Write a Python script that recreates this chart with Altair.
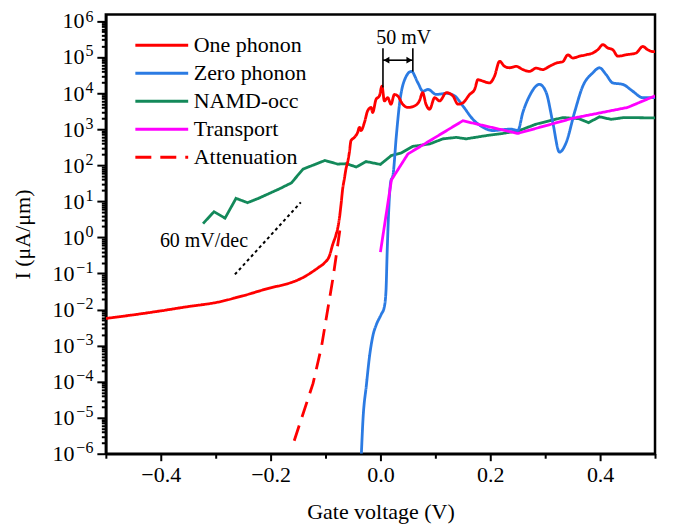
import altair as alt
import pandas as pd

FONT = "Liberation Serif"

# ---- data (gate voltage in V, current as log10 of uA/um) ----
one_x = [-0.5, -0.45, -0.4, -0.35, -0.3, -0.25, -0.2, -0.17, -0.147, -0.114, -0.102, -0.093,
         -0.0869, -0.0809, -0.0778, -0.0747, -0.0718, -0.0687, -0.0656, -0.0627, -0.0596, -0.0565,
         -0.0536, -0.0474, -0.0414, -0.0383, -0.0354, -0.0292, -0.0232, -0.0172, -0.0141, -0.0081,
         -0.0019, 0.0028, 0.0072, 0.0132, 0.0192, 0.0254, 0.0314, 0.0405, 0.0496, 0.0618, 0.0709,
         0.0769, 0.0829, 0.0896, 0.0987, 0.1078, 0.12, 0.132, 0.1411, 0.1502, 0.1624, 0.1715,
         0.1775, 0.1866, 0.1988, 0.2078, 0.2169, 0.226, 0.2351, 0.2473, 0.2593, 0.2715, 0.2837,
         0.2957, 0.3078, 0.3201, 0.3321, 0.3412, 0.3503, 0.3625, 0.3747, 0.3867, 0.3958, 0.4049,
         0.414, 0.4231, 0.4322, 0.4474, 0.4656, 0.4777, 0.4867, 0.4958, 0.5]
one_logI = [-2.25, -2.15, -2.04, -1.92, -1.81, -1.62, -1.40, -1.29, -1.16, -0.85, -0.71, -0.52,
            -0.20, 0.07, 0.25, 0.53, 0.90, 1.35, 1.63, 1.90, 2.09, 2.36,
            2.68, 2.77, 2.91, 3.05, 2.96, 3.18, 3.51, 3.60, 3.46, 3.82,
            3.92, 4.19, 3.78, 3.87, 3.69, 3.96, 3.92, 3.69, 3.60, 3.64, 3.78,
            4.01, 3.69, 3.55, 3.87, 3.78, 4.01, 3.92, 3.69, 3.73, 3.96, 4.10,
            4.37, 4.33, 4.28, 4.47, 4.88, 4.74, 4.70, 4.74, 4.65, 4.60, 4.69,
            4.65, 4.74, 4.83, 4.87, 5.06, 4.97, 5.02, 5.06, 5.11, 5.20, 5.34,
            5.25, 5.20, 5.02, 5.06, 5.11, 5.29, 5.20, 5.15, 5.15]

zero_x = [-0.0347, -0.0318, -0.0256, -0.0196, -0.0136, -0.0074, 0.0017, 0.0068, 0.0101, 0.0123,
          0.015, 0.0187, 0.0228, 0.029, 0.035, 0.0441, 0.0563, 0.0683, 0.0774, 0.0865, 0.1018,
          0.12, 0.1351, 0.1502, 0.1684, 0.1866, 0.2048, 0.2382, 0.2502, 0.2593, 0.2715, 0.2897,
          0.3019, 0.3139, 0.326, 0.3383, 0.3534, 0.3685, 0.3867, 0.3989, 0.411, 0.423, 0.4412,
          0.4594, 0.4776, 0.5]
zero_logI = [-6.0, -5.06, -4.10, -3.27, -2.72, -2.42, -2.13, -1.95, -1.49, -0.39,
             0.71, 1.54, 1.72, 2.82, 3.73, 4.37, 4.60, 4.28, 4.05, 4.10, 3.96,
             3.99, 3.92, 3.64, 3.27, 3.05, 2.96, 3.00, 2.96, 3.46, 3.92, 4.24,
             4.01, 3.18, 2.36, 2.63, 3.46, 4.19, 4.56, 4.70, 4.51, 4.28, 4.24,
             4.05, 3.87, 3.87]

namd_x = [-0.323, -0.303, -0.283, -0.263, -0.242, -0.222, -0.183, -0.162, -0.141, -0.101,
          -0.078, -0.062, -0.044, -0.026, 0.0, 0.02, 0.038, 0.059, 0.09, 0.114, 0.138, 0.156,
          0.193, 0.223, 0.253, 0.284, 0.332, 0.361, 0.379, 0.399, 0.42, 0.444, 0.5]
namd_logI = [0.38, 0.71, 0.53, 1.08, 0.96, 1.08, 1.35, 1.51, 1.89, 2.13,
             2.03, 2.04, 1.95, 2.10, 2.02, 2.27, 2.34, 2.52, 2.59, 2.73, 2.77, 2.73,
             2.82, 2.88, 2.96, 3.14, 3.32, 3.29, 3.18, 3.34, 3.27, 3.32, 3.31]

trans_x = [0.0, 0.02, 0.05, 0.15, 0.25, 0.35, 0.45, 0.5]
trans_logI = [-0.41, 1.59, 2.31, 3.23, 2.88, 3.30, 3.60, 3.92]

atten_x = [-0.157, -0.1227, -0.1074, -0.0863, -0.072]
atten_logI = [-5.64, -4.05, -3.04, -1.12, 0.4]

slope_x = [-0.265, -0.145]
slope_logI = [-1.03, 0.97]

series_names = ["One phonon", "Zero phonon", "NAMD-occ", "Transport", "Attenuation"]
series_colors = ["#FF0000", "#2B7BE3", "#13895A", "#FF00FF", "#FF0000"]
series_dash = [[1, 0], [1, 0], [1, 0], [1, 0], [16, 9]]

x_ticks = [-0.5, -0.4, -0.3, -0.2, -0.1, 0.0, 0.1, 0.2, 0.3, 0.4, 0.5]
decades = list(range(-6, 7))

# ---- build tables ----
def frame(name, xs, ls):
    return pd.DataFrame({"V": xs, "I": [10 ** v for v in ls], "series": name})

df = pd.concat([
    frame("One phonon", one_x, one_logI),
    frame("Zero phonon", zero_x, zero_logI),
    frame("NAMD-occ", namd_x, namd_logI),
    frame("Transport", trans_x, trans_logI),
    frame("Attenuation", atten_x, atten_logI),
], ignore_index=True)

slope_df = pd.DataFrame({"V": slope_x, "I": [10 ** v for v in slope_logI]})

y_ticks = []
for d in decades:
    for k in range(1, 10):
        if d == 6 and k > 1:
            break
        y_ticks.append(k * 10.0 ** d)
y_dec_pos = [10.0 ** d for d in decades if d >= 0]
y_dec_neg = [10.0 ** d for d in decades if d < 0]
y_decades = [10.0 ** d for d in decades]

ymin, ymax = 1e-6, 10 ** 6.18

is_dec = "abs(log(datum.value)/LN10 - round(log(datum.value)/LN10)) < 0.001"
expo = "round(log(datum.value)/LN10)"

x_scale = alt.Scale(domain=[-0.5, 0.5], nice=False, zero=False)
y_scale = alt.Scale(type="log", domain=[ymin, ymax], nice=False)

x_axis = alt.Axis(
    title="Gate voltage (V)", values=x_ticks,
    labelExpr="abs(round(datum.value*10)) % 2 == 0 && abs(datum.value) < 0.45 ? format(datum.value, '.1f') : ''",
    tickSize={"condition": {"test": "abs(round(datum.value*10)) % 2 == 0", "value": 7}, "value": 4.5},
    labelFlush=False, labelOverlap=False, labelPadding=4, titlePadding=16,
)
# ticks + title
y_axis_main = alt.Axis(
    title="I (μA/μm)", values=y_ticks, labels=False, orient="left",
    tickSize={"condition": {"test": is_dec, "value": 9}, "value": 4.5},
    titlePadding=61,
)
# base "10" of the labels, placed left of the exponent
y_axis_base_pos = alt.Axis(
    title=None, values=y_dec_pos, labelExpr="'10'", orient="left",
    tickSize=9, tickOpacity=0, domain=False, labelOverlap=False, labelPadding=13,
)
y_axis_base_neg = alt.Axis(
    title=None, values=y_dec_neg, labelExpr="'10'", orient="left",
    tickSize=9, tickOpacity=0, domain=False, labelOverlap=False, labelPadding=23,
)
# exponents, smaller and raised
y_axis_exp = alt.Axis(
    title=None, values=y_decades, labelExpr=f"format({expo}, 'd')", orient="left",
    tickSize=9, tickOpacity=0, domain=False, labelFontSize=16,
    labelOffset={"condition": {"test": "datum.value > 1e5", "value": -4}, "value": -6},
    labelOverlap=False, labelPadding=4,
)

X = alt.X("V:Q", scale=x_scale, axis=x_axis)

def Y(field, axis=None):
    return alt.Y(field, scale=y_scale, axis=axis)

color = alt.Color("series:N", scale=alt.Scale(domain=series_names, range=series_colors),
                  legend=alt.Legend(title=None, orient="none", legendX=45, legendY=20,
                                    symbolType="M-5,0H5", symbolSize=112, symbolStrokeWidth=3,
                                    labelFont=FONT, labelFontSize=22, labelColor="black",
                                    labelOffset=21, rowPadding=6, padding=0))
dash = alt.StrokeDash("series:N", scale=alt.Scale(domain=series_names, range=series_dash), legend=None)

def layer(name, interp="linear", axis=None):
    return alt.Chart(df).transform_filter(alt.datum.series == name).mark_line(
        strokeWidth=2.8, interpolate=interp, clip=True).encode(
        x=X, y=Y("I:Q", axis), color=color, strokeDash=dash)

lines = [
    layer("NAMD-occ", axis=y_axis_main),
    layer("Zero phonon", "monotone", axis=y_axis_base_pos),
    layer("Transport", axis=y_axis_base_neg),
    layer("One phonon", "monotone"),
    layer("Attenuation"),
]

slope_line = alt.Chart(slope_df).mark_line(color="black", strokeWidth=2, strokeDash=[3, 3]).encode(
    x=X, y=Y("I:Q", y_axis_exp))

slope_text = alt.Chart(pd.DataFrame({"V": [-0.4016], "I": [10 ** -0.11], "t": ["60 mV/dec"]})).mark_text(
    font=FONT, fontSize=20, align="left", baseline="middle", color="black").encode(
    x=X, y=Y("I:Q"), text="t:N")

# 50 mV annotation
ann_x = [0.0046, 0.059]
ann_top = [10 ** 5.24, 10 ** 5.24]
ann_bot = [10 ** 4.15, 10 ** 4.60]
ann_df = pd.DataFrame({"V": ann_x, "top": ann_top, "bot": ann_bot})
vlines = alt.Chart(ann_df).mark_rule(color="black", strokeWidth=1.6).encode(
    x=X, y=Y("top:Q"), y2="bot:Q")
arr_y = 10 ** 4.91
arr_df = pd.DataFrame({"V": [ann_x[0]], "V2": [ann_x[1]], "I": [arr_y]})
arrow = alt.Chart(arr_df).mark_rule(color="black", strokeWidth=1.6).encode(
    x=X, x2="V2:Q", y=Y("I:Q"))
head_l = alt.Chart(pd.DataFrame({"V": [ann_x[0]], "I": [arr_y]})).mark_point(
    shape="triangle-left", filled=True, color="black", size=45, xOffset=3.5, opacity=1).encode(
    x=X, y=Y("I:Q"))
head_r = alt.Chart(pd.DataFrame({"V": [ann_x[1]], "I": [arr_y]})).mark_point(
    shape="triangle-right", filled=True, color="black", size=45, xOffset=-3.5, opacity=1).encode(
    x=X, y=Y("I:Q"))
ann_text = alt.Chart(pd.DataFrame({"V": [0.0423], "I": [10 ** 5.36], "t": ["50 mV"]})).mark_text(
    font=FONT, fontSize=20, align="center", baseline="alphabetic", color="black").encode(
    x=X, y=Y("I:Q"), text="t:N")

chart = alt.layer(*lines, slope_line, slope_text, vlines, arrow, head_l, head_r, ann_text).resolve_scale(
    y="shared").resolve_axis(y="independent").properties(
    width=550, height=440,
    autosize=alt.AutoSizeParams(type="none"),
    padding={"left": 98, "top": 6, "right": 12, "bottom": 75},
).configure_view(stroke="black", strokeWidth=2.5).configure_axis(
    labelFont=FONT, titleFont=FONT, labelFontSize=22, titleFontSize=22,
    labelColor="black", titleColor="black", titleFontWeight="normal",
    domainColor="black", domainWidth=2.5, tickColor="black", tickWidth=2, grid=False,
)

chart.save("out.html", embed_options={"renderer": "svg", "actions": False})
